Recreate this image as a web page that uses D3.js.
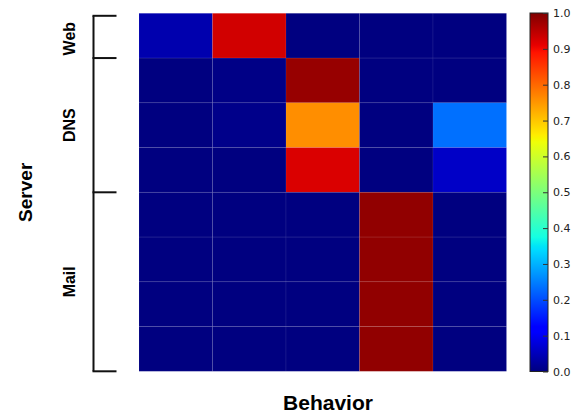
<!DOCTYPE html>
<html>
<head>
<meta charset="utf-8">
<script src="https://cdn.jsdelivr.net/npm/d3@7"></script>
<style>
  body { margin: 0; background: #fff; }
  .cbar text { font-family: 'DejaVu Sans', sans-serif; font-size: 11px; fill: #222; }
  .label { font-family: 'Liberation Sans', Arial, sans-serif; font-weight: bold; fill: #000; }
</style>
</head>
<body>
<div id="chart"></div>
<script>
// Behaviour columns and server rows
const behaviors = ['B1', 'B2', 'B3', 'B4', 'B5'];
const servers = ['S1', 'S2', 'S3', 'S4', 'S5', 'S6', 'S7', 'S8'];

const values = [
  [0.04, 0.93, 0.0, 0.0, 0.0],
  [0.0, 0.006, 0.98, 0.0, 0.0],
  [0.0, 0.009, 0.76, 0.0, 0.235],
  [0.0, 0.0, 0.922, 0.0, 0.062],
  [0.0, 0.0, 0.0, 0.985, 0.0],
  [0.0, 0.0, 0.0, 0.985, 0.0],
  [0.0, 0.0, 0.0, 0.985, 0.0],
  [0.0, 0.0, 0.0, 0.985, 0.0],
];

// server groups: name, first row, last row (exclusive)
const groupNames = ['Web', 'DNS', 'Mail'];
const groupStart = [0, 1, 4];
const groupEnd = [1, 4, 8];

const colorTicks = [0, 0.1, 0.2, 0.3, 0.4, 0.5, 0.6, 0.7, 0.8, 0.9, 1.0];

const width = 575;
const height = 415;
const plot = { left: 139, right: 506.5, top: 13.3, bottom: 371.3 };

// matplotlib "jet" colormap, per channel
const jetRed = d3.scaleLinear().domain([0, 0.35, 0.66, 0.89, 1]).range([0, 0, 1, 1, 0.5]).clamp(true);
const jetGreen = d3.scaleLinear().domain([0, 0.125, 0.375, 0.64, 0.91, 1]).range([0, 0, 1, 1, 0, 0]).clamp(true);
const jetBlue = d3.scaleLinear().domain([0, 0.11, 0.34, 0.65, 1]).range([0.5, 1, 1, 0, 0]).clamp(true);
const jet = v => d3.rgb(jetRed(v) * 255, jetGreen(v) * 255, jetBlue(v) * 255).formatHex();

const svg = d3
  .select('#chart')
  .append('svg')
  .attr('width', width)
  .attr('height', height);

const xScale = d3.scaleBand().domain(behaviors).range([plot.left, plot.right]);
const yScale = d3.scaleBand().domain(servers).range([plot.top, plot.bottom]);
const rowScale = d3.scaleLinear().domain([0, servers.length]).range([plot.top, plot.bottom]);

const cells = [];
values.forEach((row, i) => row.forEach((v, j) => cells.push({ s: servers[i], b: behaviors[j], v })));

svg
  .append('g')
  .selectAll('rect')
  .data(cells)
  .enter()
  .append('rect')
  .attr('x', d => xScale(d.b))
  .attr('y', d => yScale(d.s))
  .attr('width', xScale.bandwidth())
  .attr('height', yScale.bandwidth())
  .attr('fill', d => jet(d.v))
  .attr('stroke', 'rgba(255,255,255,0.08)')
  .attr('stroke-width', 0.8);

// bracket showing server groups
const bx = 93.5;
const bracket = svg.append('g').attr('stroke', '#111').attr('stroke-width', 2).attr('fill', 'none');
bracket
  .append('line')
  .attr('x1', bx).attr('x2', bx)
  .attr('y1', rowScale(0) + 2.5)
  .attr('y2', rowScale(servers.length));
const edges = [...groupStart, servers.length];
bracket
  .selectAll('.tick')
  .data(edges)
  .enter()
  .append('line')
  .attr('x1', bx - 1).attr('x2', 116.5)
  .attr('y1', d => (d === 0 ? rowScale(d) + 2.5 : rowScale(d)))
  .attr('y2', d => (d === 0 ? rowScale(d) + 2.5 : rowScale(d)));

svg
  .selectAll('.group-label')
  .data(groupNames)
  .enter()
  .append('text')
  .attr('class', 'label')
  .attr('font-size', 16)
  .attr('text-anchor', 'middle')
  .attr('transform', (d, i) => `translate(75,${(rowScale(groupStart[i]) + rowScale(groupEnd[i])) / 2 + (i === 0 ? 3 : 0)}) rotate(-90)`)
  .text(d => d);

// axis titles
svg
  .append('text')
  .attr('class', 'label')
  .attr('font-size', 19)
  .attr('text-anchor', 'middle')
  .attr('transform', `translate(32,${(plot.top + plot.bottom) / 2}) rotate(-90)`)
  .text('Server');

svg
  .append('text')
  .attr('class', 'label')
  .attr('font-size', 21)
  .attr('text-anchor', 'middle')
  .attr('x', 328)
  .attr('y', 410)
  .text('Behavior');

// colorbar
const cb = { x: 530, w: 18, top: 13, bottom: 371.5 };
const stops = [0, 0.11, 0.125, 0.34, 0.35, 0.375, 0.64, 0.65, 0.66, 0.89, 0.91, 1];
const grad = svg
  .append('defs')
  .append('linearGradient')
  .attr('id', 'jet')
  .attr('x1', 0).attr('y1', 1)
  .attr('x2', 0).attr('y2', 0);
grad
  .selectAll('stop')
  .data(stops)
  .enter()
  .append('stop')
  .attr('offset', d => d)
  .attr('stop-color', d => jet(d));

svg
  .append('rect')
  .attr('x', cb.x)
  .attr('y', cb.top)
  .attr('width', cb.w)
  .attr('height', cb.bottom - cb.top)
  .attr('fill', 'url(#jet)')
  .attr('stroke', '#222')
  .attr('stroke-width', 1);

const cScale = d3.scaleLinear().domain([0, 1]).range([cb.bottom, cb.top]);
const cAxis = svg
  .append('g')
  .attr('class', 'cbar')
  .attr('transform', `translate(${cb.x + cb.w},0)`)
  .call(
    d3.axisRight(cScale)
      .tickValues(colorTicks)
      .tickFormat(d3.format('.1f'))
      .tickSize(-5)
      .tickPadding(5)
  );
cAxis.select('.domain').remove();
cAxis.selectAll('.tick line').attr('stroke', '#333');
</script>
</body>
</html>
